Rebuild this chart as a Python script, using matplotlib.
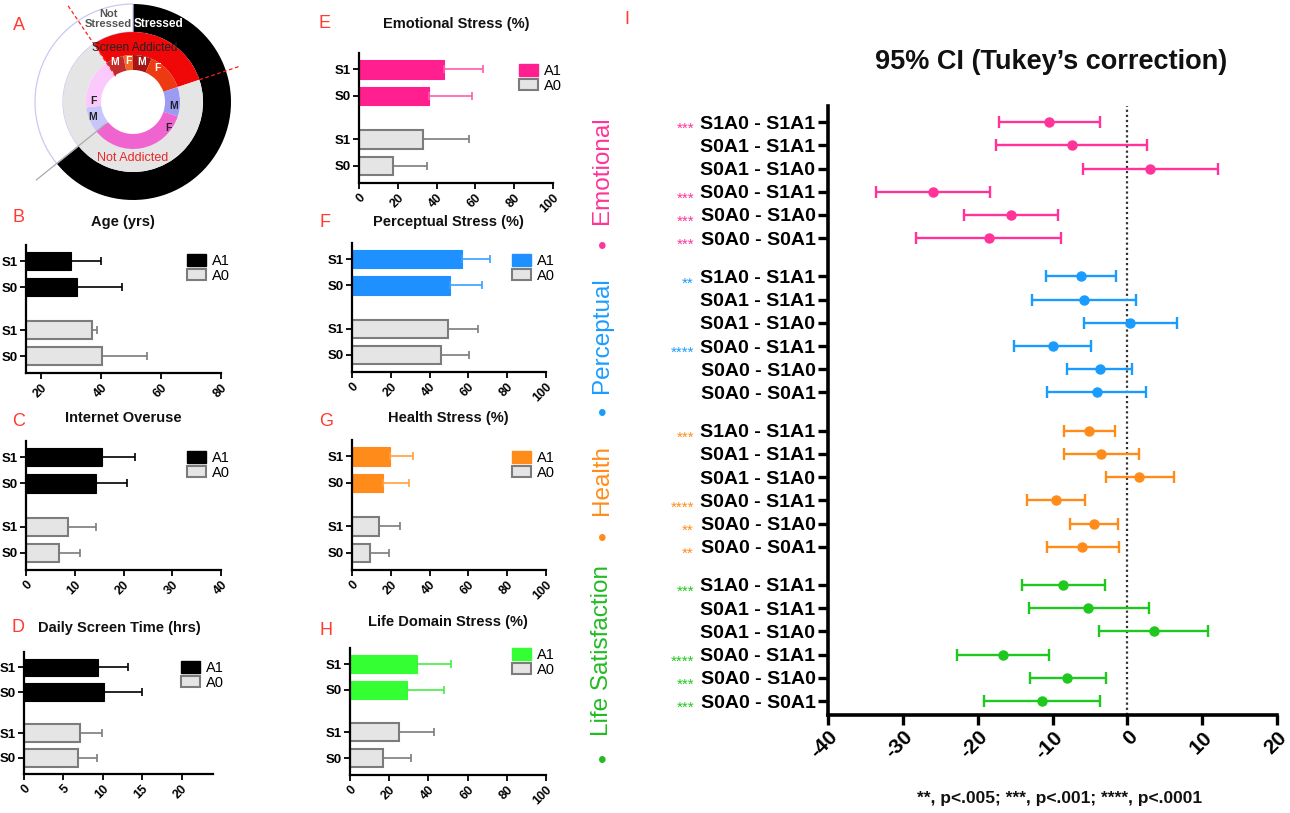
import matplotlib
matplotlib.use("Agg")
import matplotlib.pyplot as plt
import matplotlib.transforms as mtransforms
from matplotlib.patches import Patch
import numpy as np

plt.rcParams['font.family'] = ['Liberation Sans', 'DejaVu Sans']

# ---------------- DATA ----------------
# Panel A donut (percent of sample)
outer_labels = ['Stressed', 'Not Stressed']
outer_vals = [64.2, 35.8]
middle_labels = ['Screen Addicted', 'Not Addicted']
middle_vals = [29.3, 70.7]
inner_labels = ['M', 'F', 'M', 'F', 'M', 'F', 'M', 'F']
inner_vals = [6.1, 3.3, 6.5, 13.4, 10.1, 34.3, 8.9, 17.4]

group_rows = ['S1', 'S0', 'S1', 'S0']

age_a1 = [29.9, 31.9]; age_a1_sd = [10.0, 15.2]
age_a0 = [36.9, 40.2]; age_a0_sd = [1.9, 15.0]
net_a1 = [15.5, 14.3]; net_a1_sd = [6.8, 6.4]
net_a0 = [8.7, 6.8]; net_a0_sd = [5.7, 4.3]
scr_a1 = [9.45, 10.2]; scr_a1_sd = [3.75, 4.75]
scr_a0 = [7.1, 6.8]; scr_a0_sd = [2.85, 2.5]
emo_a1 = [43.8, 36.1]; emo_a1_sd = [20.0, 22.0]
emo_a0 = [33.0, 17.3]; emo_a0_sd = [23.6, 17.7]
per_a1 = [56.6, 50.6]; per_a1_sd = [14.6, 16.3]
per_a0 = [49.7, 46.0]; per_a0_sd = [15.0, 14.4]
hea_a1 = [19.4, 15.8]; hea_a1_sd = [11.8, 13.7]
hea_a0 = [14.1, 9.4]; hea_a0_sd = [10.8, 9.5]
life_a1 = [34.0, 29.0]; life_a1_sd = [17.5, 19.0]
life_a0 = [25.0, 17.0]; life_a0_sd = [18.0, 14.0]

# Panel I: Tukey 95% CI
comparisons = ['S1A0 - S1A1', 'S0A1 - S1A1', 'S0A1 - S1A0',
               'S0A0 - S1A1', 'S0A0 - S1A0', 'S0A0 - S0A1']
domains = ['Emotional', 'Perceptual', 'Health', 'Life Satisfaction']
emo_diff = [-10.5, -7.4, 3.0, -26.0, -15.5, -18.5]
emo_lo = [-17.2, -17.5, -5.9, -33.6, -21.8, -28.2]
emo_hi = [-3.6, 2.6, 12.1, -18.4, -9.2, -8.9]
per_diff = [-6.2, -5.8, 0.4, -10.0, -3.7, -4.1]
per_lo = [-10.9, -12.7, -5.8, -15.2, -8.1, -10.7]
per_hi = [-1.5, 1.1, 6.6, -4.8, 0.6, 2.5]
hea_diff = [-5.1, -3.5, 1.6, -9.5, -4.4, -6.0]
hea_lo = [-8.5, -8.5, -2.9, -13.4, -7.6, -10.8]
hea_hi = [-1.6, 1.6, 6.3, -5.7, -1.2, -1.1]
life_diff = [-8.6, -5.2, 3.5, -16.6, -8.0, -11.4]
life_lo = [-14.1, -13.2, -3.8, -22.7, -13.0, -19.1]
life_hi = [-3.0, 2.9, 10.8, -10.5, -2.9, -3.6]
emo_stars = ['***', '', '', '***', '***', '***']
per_stars = ['**', '', '', '****', '', '']
hea_stars = ['***', '', '', '****', '**', '**']
life_stars = ['***', '', '', '****', '***', '***']
i_xticks = [-40, -30, -20, -10, 0, 10, 20]

# ---------------- FIGURE ----------------
W, H = 1290, 813
fig = plt.figure(figsize=(W / 100, H / 100), dpi=100)
RED = '#ff3a30'


def px_axes(x0, y0, x1, y1):
    return fig.add_axes([x0 / W, 1 - y1 / H, (x1 - x0) / W, (y1 - y0) / H])


def ftext(x, y, s, **kw):
    return fig.text(x / W, 1 - y / H, s, **kw)


# ---------------- Panel A ----------------
axA = px_axes(33, 2, 233, 202)
wo, _ = axA.pie(outer_vals, radius=0.98, startangle=90, counterclock=False,
                colors=['black', 'white'],
                wedgeprops=dict(width=0.28, linewidth=0))
wo[1].set_edgecolor('#c9c9f2'); wo[1].set_linewidth(0.9)
mid_start = 124
axA.pie(middle_vals, radius=0.70, startangle=mid_start, counterclock=False,
        colors=['#f00808', '#e5e5e5'], wedgeprops=dict(width=0.23, linewidth=0))
inner_colors = ['#c42c2c', '#f26424', '#a51515', '#ee3a12',
                '#9b9bf4', '#f064d0', '#c6c6fa', '#fcc9fc']
axA.pie(inner_vals, radius=0.47, startangle=mid_start, counterclock=False,
        colors=inner_colors, wedgeprops=dict(width=0.15, linewidth=0))
axA.set_xlim(-1, 1); axA.set_ylim(-1, 1); axA.set_aspect('equal'); axA.axis('off')


def ray(angle_deg, r0, r1, **kw):
    a = np.deg2rad(angle_deg)
    axA.plot([r0 * np.cos(a), r1 * np.cos(a)], [r0 * np.sin(a), r1 * np.sin(a)],
             clip_on=False, **kw)


a_add_end = mid_start - 360 * middle_vals[0] / 100
a_str_end = 90 - 360 * outer_vals[0] / 100
ray(mid_start, 0.31, 1.17, color='#ff2020', lw=0.9, ls=(0, (3, 2)))
ray(a_add_end, 0.70, 1.12, color='#ff2020', lw=0.9, ls=(0, (3, 2)))
ray(a_str_end, 0.35, 1.24, color='#aaaaaa', lw=0.9)

ftext(108, 19, 'Not\nStressed', ha='center', va='center', fontsize=8,
      fontweight='bold', color='#555555', linespacing=1.0)
ftext(158, 24, 'Stressed', ha='center', va='center', fontsize=8.5,
      fontweight='bold', color='white')
ftext(135, 48, 'Screen Addicted', ha='center', va='center', fontsize=8.5,
      color='#222222')
ftext(133, 158, 'Not Addicted', ha='center', va='center', fontsize=9,
      color='#e8282a')
for (x, y, s, c) in [(115, 62, 'M', 'white'), (128, 61, 'F', 'white'),
                     (142, 62, 'M', 'white'), (157, 68, 'F', 'white'),
                     (93, 101, 'F', '#222222'), (93, 117, 'M', '#222222'),
                     (174, 106, 'M', '#222222'), (168, 128, 'F', '#222222')]:
    ftext(x, y, s, ha='center', va='center', fontsize=7.5, fontweight='bold', color=c)


# ---------------- Bar panels ----------------
def bar_panel(box, a1, a1sd, a0, a0sd, color, ecolor, xlim, xticks, leg_xy):
    ax = px_axes(*box)
    pos = [0, 1, 2.65, 3.65]
    ax.barh(pos[:2], a1, height=0.7, color=color, edgecolor=color, linewidth=0.8,
            xerr=[[0, 0], a1sd],
            error_kw=dict(ecolor=ecolor, elinewidth=1.2, capsize=3, capthick=1.2))
    ax.barh(pos[2:], a0, height=0.7, color='#e5e5e5', edgecolor='#7c7c7c', linewidth=1.5,
            xerr=[[0, 0], a0sd],
            error_kw=dict(ecolor='#7c7c7c', elinewidth=1.2, capsize=3, capthick=1.2))
    ax.set_xlim(*xlim)
    ax.set_ylim(4.3, -0.62)
    ax.set_yticks(pos)
    ax.set_yticklabels(group_rows, fontsize=9.5, fontweight='bold')
    ax.set_xticks(xticks)
    ax.set_xticklabels([str(t) for t in xticks], fontsize=9, fontweight='bold',
                       rotation=45, ha='right', va='top', rotation_mode='anchor')
    for s in ['top', 'right']:
        ax.spines[s].set_visible(False)
    for s in ['left', 'bottom']:
        ax.spines[s].set_linewidth(1.6)
    ax.tick_params(axis='both', length=4, width=1.3, pad=2)
    handles = [Patch(facecolor=color, edgecolor=color, label='A1'),
               Patch(facecolor='#e5e5e5', edgecolor='#7c7c7c', linewidth=1.5, label='A0')]
    fig.legend(handles=handles, loc='upper left',
               bbox_to_anchor=(leg_xy[0] / W, 1 - leg_xy[1] / H),
               frameon=False, fontsize=10.5, handlelength=1.3, handleheight=0.85,
               handletextpad=0.4, labelspacing=0.05, borderpad=0, borderaxespad=0)
    return ax


bar_panel((26, 245, 221, 373), age_a1, age_a1_sd, age_a0, age_a0_sd,
          'black', 'black', (15, 80), [20, 40, 60, 80], (187, 254))
bar_panel((26, 441, 221, 570), net_a1, net_a1_sd, net_a0, net_a0_sd,
          'black', 'black', (0, 40), [0, 10, 20, 30, 40], (187, 451))
bar_panel((24, 652, 213, 774), scr_a1, scr_a1_sd, scr_a0, scr_a0_sd,
          'black', 'black', (0, 24), [0, 5, 10, 15, 20], (181, 661))
bar_panel((359, 53, 553, 183), emo_a1, emo_a1_sd, emo_a0, emo_a0_sd,
          '#ff1f8f', '#ff5aa8', (0, 100), [0, 20, 40, 60, 80, 100], (519, 64))
bar_panel((352, 243, 546, 372), per_a1, per_a1_sd, per_a0, per_a0_sd,
          '#1e90ff', '#3aa0ff', (0, 100), [0, 20, 40, 60, 80, 100], (512, 254))
bar_panel((352, 440, 546, 570), hea_a1, hea_a1_sd, hea_a0, hea_a0_sd,
          '#ff8c1a', '#ffa040', (0, 100), [0, 20, 40, 60, 80, 100], (512, 451))
bar_panel((350, 648, 546, 775), life_a1, life_a1_sd, life_a0, life_a0_sd,
          '#33ff33', '#44ee44', (0, 100), [0, 20, 40, 60, 80, 100], (512, 648))

titles = [(123, 222, 'Age (yrs)'), (123, 418, 'Internet Overuse'),
          (119, 628, 'Daily Screen Time (hrs)'), (456, 24, 'Emotional Stress (%)'),
          (448, 222, 'Perceptual Stress (%)'), (448, 418, 'Health Stress (%)'),
          (448, 622, 'Life Domain Stress (%)')]
for x, y, s in titles:
    ftext(x, y, s, ha='center', va='center', fontsize=10.5, fontweight='bold', color='#111111')

for x, y, s in [(19, 26, 'A'), (19, 217, 'B'), (19, 421, 'C'), (18, 628, 'D'),
                (325, 24, 'E'), (325, 222, 'F'), (326, 421, 'G'), (326, 630, 'H'),
                (627, 20, 'I')]:
    ftext(x, y, s, ha='center', va='center', fontsize=13, color=RED)

# ---------------- Panel I ----------------
axI = px_axes(828, 106, 1277, 715)
i_colors = ['#ff3399', '#1a9cff', '#ff8c1a', '#1ec81e']
diffs = [emo_diff, per_diff, hea_diff, life_diff]
los = [emo_lo, per_lo, hea_lo, life_lo]
his = [emo_hi, per_hi, hea_hi, life_hi]
stars = [emo_stars, per_stars, hea_stars, life_stars]
gstep = 6.64
yt, yl = [], []
trans = mtransforms.blended_transform_factory(fig.transFigure, axI.transData)
for g in range(4):
    ys = np.array([g * gstep + r for r in range(6)])
    d = np.array(diffs[g]); lo = np.array(los[g]); hi = np.array(his[g])
    axI.errorbar(d, ys, xerr=[d - lo, hi - d], fmt='o', color=i_colors[g],
                 ms=6.5, lw=1.7, capsize=4, capthick=1.7, zorder=3)
    yt += list(ys); yl += comparisons
    for y, s in zip(ys, stars[g]):
        if s:
            axI.text(694 / W, y, s, transform=trans, ha='right', va='top',
                     color=i_colors[g], fontsize=11, clip_on=False)
axI.axvline(0, color='#333333', ls=(0, (1, 1.3)), lw=1.6, zorder=1)
axI.set_xlim(-40, 20)
axI.set_ylim(5 + 3 * gstep + 0.6, -0.69)
axI.set_yticks(yt)
axI.set_yticklabels(yl, fontsize=14, fontweight='bold')
axI.set_xticks(i_xticks)
axI.set_xticklabels([str(t) for t in i_xticks], fontsize=15, fontweight='bold',
                    rotation=45, ha='right', va='top', rotation_mode='anchor')
for s in ['top', 'right']:
    axI.spines[s].set_visible(False)
for s in ['left', 'bottom']:
    axI.spines[s].set_linewidth(2.6)
axI.tick_params(axis='both', length=7, width=2.4, pad=2)

ftext(1051, 62, '95% CI (Tukey\u2019s correction)', ha='center', va='center',
      fontsize=19.5, fontweight='bold', color='#111111')
ftext(1060, 798, '**, p<.005; ***, p<.001; ****, p<.0001', ha='center', va='center',
      fontsize=12.5, fontweight='bold', color='#111111')

vlabels = [(170, 'Emotional', 248), (335, 'Perceptual', 415),
           (480, 'Health', 540), (650, 'Life Satisfaction', 762)]
for (yc, s, yd), c in zip(vlabels, i_colors[:3] + ['#22bb22']):
    ftext(602, yc, s, rotation=90, ha='center', va='center', fontsize=17.5, color=c)
    ftext(602, yd, '\u2022', ha='center', va='center', fontsize=17.5, color=c)

fig.savefig('out.png', dpi=100)
